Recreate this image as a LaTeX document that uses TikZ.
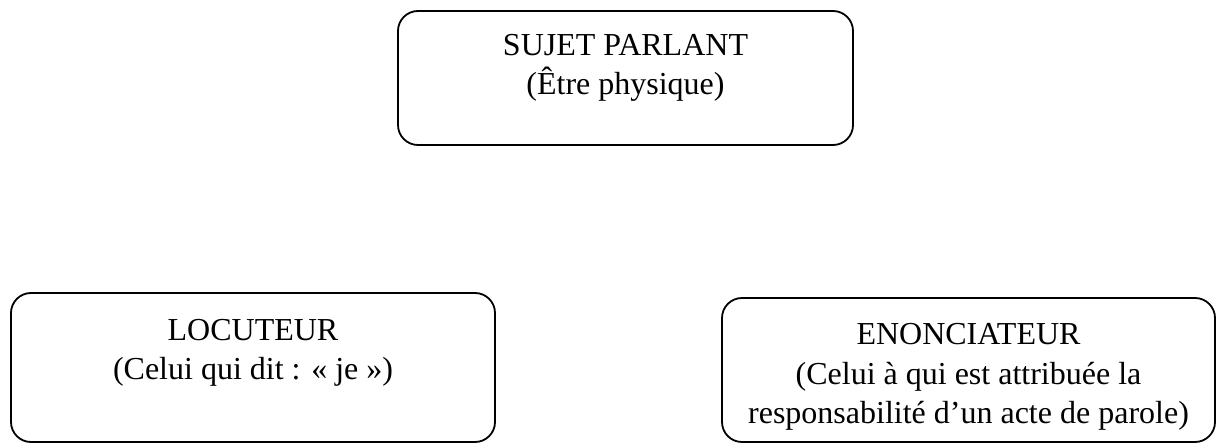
\documentclass[tikz,border=0pt]{standalone}
\usepackage{fontspec}
\setmainfont{Liberation Serif}
\begin{document}
\begin{tikzpicture}[x=1pt,y=-1pt,
  frame/.style={draw=black, line width=1.8pt, rounded corners=20pt, inner sep=0pt},
  label/.style={align=center, anchor=base, inner sep=0pt,
    font=\fontsize{32}{39.5}\selectfont}]
  \useasboundingbox (0,0) rectangle (1227,443);
  % top box (anchor "base" sits on the last line)
  \node[frame, minimum width=455pt, minimum height=134pt] (sujet) at (625.5,78) {};
  \node[label] (sujet-t) at (625.5,95) {SUJET PARLANT\\(Être physique)};
  % lower left box
  \node[frame, minimum width=484pt, minimum height=149pt] (loc) at (253,367.5) {};
  \node[label] (loc-t) at (253,380) {LOCUTEUR\\(Celui qui dit : « je »)};
  % lower right box
  \node[frame, minimum width=493pt, minimum height=144pt] (enon) at (968.5,370) {};
  \node[label] (enon-t) at (968.5,424) {ENONCIATEUR\\(Celui à qui est attribuée la\\responsabilité d’un acte de parole)};
\end{tikzpicture}
\end{document}
